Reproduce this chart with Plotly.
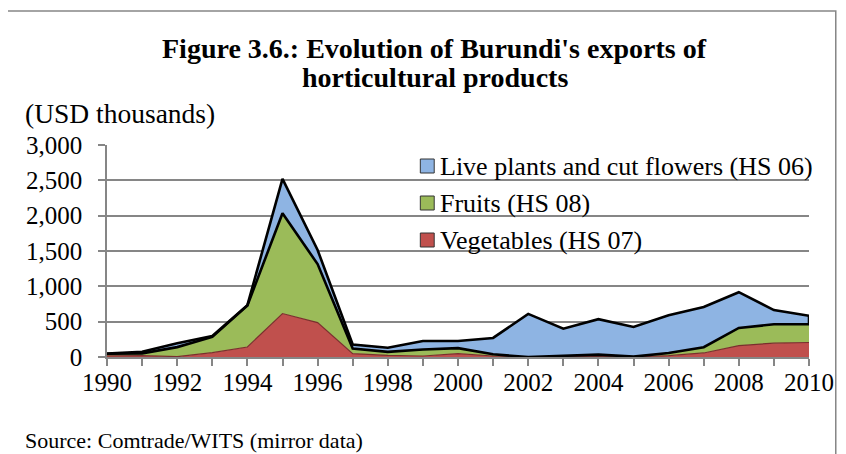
import plotly.graph_objects as go

years = list(range(1990, 2011))
vegetables = [15, 20, 5, 61, 142, 615, 487, 48, 24, 14, 48, 14, 0, 5, 10, 0, 19, 57, 162, 196, 205]
fruits = [30, 32, 135, 223, 588, 1419, 828, 72, 48, 92, 77, 24, 0, 10, 23, 5, 38, 82, 249, 267, 258]
plants = [5, 23, 55, 14, 3, 487, 199, 58, 58, 120, 101, 232, 610, 385, 502, 420, 535, 568, 506, 201, 120]

names = ["Vegetables (HS 07)", "Fruits (HS 08)", "Live plants and cut flowers (HS 06)"]
fills = ["#C0504D", "#9BBB59", "#8EB4E3"]
line_colors = ["#7a2f2d", "#000000", "#000000"]
line_widths = [1.2, 2.6, 2.6]
series = [vegetables, fruits, plants]

# page body has an 8px margin; work in reference pixel coords and shift
O = 8
W, H = 846 - O, 454 - O
L, R, T, B = 107 - O, 31, 145 - O, 97
PW, PH = W - L - R, H - T - B

def px(x):
    return (x - O - L) / PW

def py(y):
    return (H - B - (y - O)) / PH

FONT = "Liberation Serif, Times New Roman, serif"
GRID = "#868686"

fig = go.Figure()
for name, ys, fc, lc, lw in zip(names, series, fills, line_colors, line_widths):
    fig.add_trace(go.Scatter(
        x=years, y=ys, name=name, mode="lines", stackgroup="one",
        fillcolor=fc, line=dict(color=lc, width=lw), showlegend=False,
    ))

# closing edge of the top area at the last year
lower_last = vegetables[-1] + fruits[-1]
top_last = lower_last + plants[-1]
fig.add_trace(go.Scatter(x=[years[-1], years[-1]], y=[lower_last, top_last], mode="lines",
                         line=dict(color="black", width=2.6), showlegend=False,
                         hoverinfo="skip"))

annotations = [
    dict(text="<b>Figure 3.6.: Evolution of Burundi's exports of</b>", x=px(437.5), y=py(48),
         xanchor="center", yanchor="middle", font=dict(size=28)),
    dict(text="<b>horticultural products</b>", x=px(437.5), y=py(78),
         xanchor="center", yanchor="middle", font=dict(size=28)),
    dict(text="(USD thousands)", x=px(22), y=py(113), xanchor="left", yanchor="middle",
         font=dict(size=27.5)),
    dict(text="Source: Comtrade/WITS (mirror data)", x=px(22), y=py(440), xanchor="left",
         yanchor="middle", font=dict(size=22)),
]
shapes = [
    dict(type="rect", xref="paper", yref="paper", x0=px(6), x1=px(842), y0=py(11), y1=py(470),
         line=dict(color=GRID, width=1.5), layer="below"),
]
# custom legend (reverse stacking order)
leg_rows = [166, 203, 240]
for i, idx in enumerate([2, 1, 0]):
    yc = leg_rows[i]
    shapes.append(dict(type="rect", xref="paper", yref="paper",
                       x0=px(423), x1=px(437), y0=py(yc - 7), y1=py(yc + 7),
                       fillcolor=fills[idx], line=dict(color="#333333", width=1)))
    annotations.append(dict(text=names[idx], x=px(441), y=py(yc), xanchor="left",
                            yanchor="middle", font=dict(size=26)))

for a in annotations:
    a.update(xref="paper", yref="paper", showarrow=False)
    a["font"].update(family=FONT, color="black")

fig.update_layout(
    width=W, height=H,
    margin=dict(l=L, r=R, t=T, b=B),
    paper_bgcolor="white", plot_bgcolor="white",
    font=dict(family=FONT, color="black", size=25),
    annotations=annotations, shapes=shapes,
    showlegend=False,
)
fig.update_xaxes(
    range=[1990, 2010], dtick=2, tick0=1990, showgrid=False,
    showline=True, linecolor=GRID, linewidth=1.5,
    ticks="outside", ticklen=7, tickcolor=GRID, tickwidth=1.5,
    tickfont=dict(size=25), ticklabelstandoff=-5,
    minor=dict(dtick=1, ticks="outside", ticklen=7, tickcolor=GRID, tickwidth=1.5, showgrid=False),
    zeroline=False,
)
fig.update_yaxes(
    range=[0, 3000], dtick=500, tickformat=",", showgrid=True, gridcolor=GRID, gridwidth=1.5,
    showline=True, linecolor=GRID, linewidth=1.5,
    ticks="outside", ticklen=7, tickcolor=GRID, tickwidth=1.5,
    tickfont=dict(size=25), ticklabelstandoff=11, zeroline=False,
)

fig.write_html("out.html")
